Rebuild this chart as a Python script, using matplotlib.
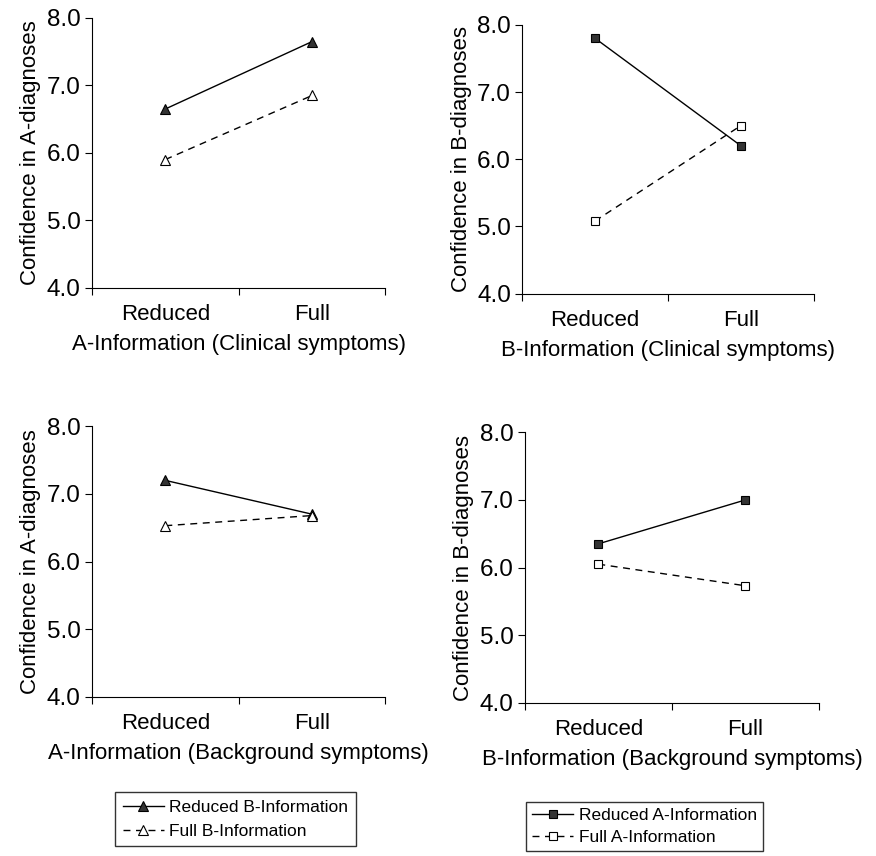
import matplotlib
matplotlib.use("Agg")
import matplotlib.pyplot as plt

plt.rcParams['font.family'] = ['Liberation Sans', 'DejaVu Sans']

levels = ["Reduced", "Full"]
xpos = [0.5, 1.5]

# panel values (confidence means)
a_clin_reduced_b = [6.65, 7.65]
a_clin_full_b = [5.9, 6.85]
b_clin_reduced_a = [7.8, 6.2]
b_clin_full_a = [5.08, 6.5]
a_back_reduced_b = [7.2, 6.7]
a_back_full_b = [6.53, 6.68]
b_back_reduced_a = [6.35, 7.0]
b_back_full_a = [6.05, 5.73]

yticks = [4.0, 5.0, 6.0, 7.0, 8.0]

panels = [
    ([0.105, 0.664, 0.335, 0.315], a_clin_reduced_b, a_clin_full_b, "^", 6.5,
     "Confidence in A-diagnoses", "A-Information (Clinical symptoms)"),
    ([0.596, 0.657, 0.333, 0.314], b_clin_reduced_a, b_clin_full_a, "s", 6,
     "Confidence in B-diagnoses", "B-Information (Clinical symptoms)"),
    ([0.105, 0.186, 0.335, 0.316], a_back_reduced_b, a_back_full_b, "^", 6.5,
     "Confidence in A-diagnoses", "A-Information (Background symptoms)"),
    ([0.599, 0.179, 0.336, 0.316], b_back_reduced_a, b_back_full_a, "s", 6,
     "Confidence in B-diagnoses", "B-Information (Background symptoms)"),
]

fig = plt.figure(figsize=(8.76, 8.56), dpi=100)
handles = []
for rect, solid, dashed, mk, ms, ylab, xlab in panels:
    ax = fig.add_axes(rect)
    h1, = ax.plot(xpos, solid, color="black", lw=1.0, marker=mk, ms=ms,
                  mfc="#333333", mec="black", mew=0.8)
    h2, = ax.plot(xpos, dashed, color="black", lw=1.0, ls=(0, (5, 4)), marker=mk, ms=ms,
                  mfc="white", mec="black", mew=0.8)
    handles.append((h1, h2))
    ax.set_xlim(0, 2)
    ax.set_ylim(4, 8)
    ax.spines['top'].set_visible(False)
    ax.spines['right'].set_visible(False)
    ax.set_yticks(yticks)
    ax.set_yticklabels([f"{v:.1f}" for v in yticks], fontsize=17.5)
    ax.set_xticks([0, 1, 2])
    ax.set_xticklabels([])
    ax.set_xticks(xpos, minor=True)
    ax.set_xticklabels(levels, minor=True, fontsize=16)
    ax.tick_params(axis='x', which='minor', length=0, pad=12)
    ax.tick_params(axis='x', which='major', length=5, direction='out')
    ax.tick_params(axis='y', length=5, pad=3)
    ax.set_ylabel(ylab, fontsize=16, labelpad=4)
    ax.set_xlabel(xlab, fontsize=16, labelpad=6)

leg1 = fig.legend(handles[0], ["Reduced B-Information", "Full B-Information"],
                  loc="upper left", bbox_to_anchor=(0.131, 0.075), fontsize=12.5,
                  frameon=True, fancybox=False, edgecolor="black",
                  handlelength=2.4, handletextpad=0.3, borderpad=0.45,
                  borderaxespad=0)
leg2 = fig.legend(handles[1], ["Reduced A-Information", "Full A-Information"],
                  loc="upper left", bbox_to_anchor=(0.600, 0.063), fontsize=12.5,
                  frameon=True, fancybox=False, edgecolor="black",
                  handlelength=2.4, handletextpad=0.3, borderpad=0.35,
                  borderaxespad=0, labelspacing=0.4)

fig.savefig("out.png", dpi=100)
